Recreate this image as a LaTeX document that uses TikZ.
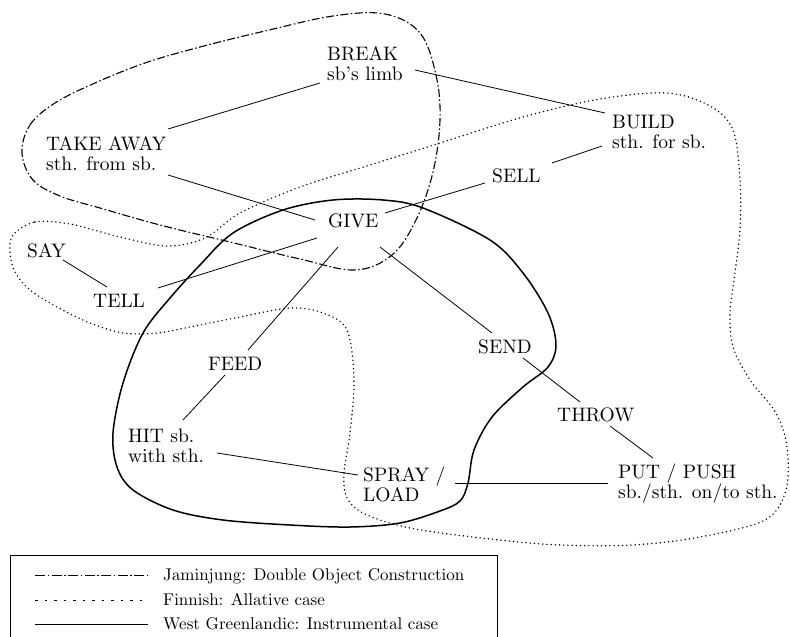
\documentclass[tikz,border=0pt]{standalone}
\usetikzlibrary{calc}
\font\labfont=cmr10 at 19.5pt
\font\legfont=cmr10 at 17pt
\begin{document}
\begin{tikzpicture}[x=1pt,y=-1pt,
  lbl/.style={font={\labfont\baselineskip=20pt}, inner sep=0pt, align=left, anchor=west},
  leg/.style={font=\legfont, inner sep=0pt, anchor=base west},
  conn/.style={line width=0.8pt},
  jam/.style={line width=1.1pt, dash pattern=on 8pt off 2.5pt on 1.5pt off 2.5pt},
  fin/.style={line width=1.6pt, line cap=round, dash pattern=on 0pt off 4.2pt},
  wgr/.style={line width=1.5pt},
  legjam/.style={line width=0.9pt, dash pattern=on 10pt off 2.5pt on 1.5pt off 2.5pt},
  legfin/.style={line width=0.9pt, dash pattern=on 2.5pt off 7pt},
  legwgr/.style={line width=0.9pt}]
\useasboundingbox (0,0) rectangle (790,637);

% labels
\node[lbl] (break) at (327,64) {BREAK\\sb's limb};
\node[lbl] (take) at (46,153.5) {TAKE AWAY\\sth. from sb.};
\node[lbl] (build) at (612,131.5) {BUILD\\sth. for sb.};
\node[lbl] (sell) at (492,175.5) {SELL};
\node[lbl] (give) at (328,220.5) {GIVE};
\node[lbl] (say) at (27,250.5) {SAY};
\node[lbl] (tell) at (93,300.5) {TELL};
\node[lbl] (feed) at (208,363.5) {FEED};
\node[lbl] (send) at (478,346.5) {SEND};
\node[lbl] (throw) at (557,414.5) {THROW};
\node[lbl] (hit) at (128,445.5) {HIT sb.\\with sth.};
\node[lbl] (spray) at (363,484) {SPRAY /\\LOAD};
\node[lbl] (put) at (618,484) {PUT / PUSH\\sb./sth. on/to sth.};

% connectors
\draw[conn] ($(take.west)+(122,-24.5)$) -- ($(break.west)+(-7,19)$);
\draw[conn] ($(take.west)+(122,21.5)$) -- ($(give.west)+(-13,-0.5)$);
\draw[conn] ($(break.west)+(88,6)$) -- ($(build.west)+(-7,-18.5)$);
\draw[conn] ($(build.west)+(-10,14.5)$) -- ($(sell.west)+(60,-12.5)$);
\draw[conn] ($(sell.west)+(-7,7.5)$) -- ($(give.west)+(57,-7.5)$);
\draw[conn] ($(give.west)+(-11,17.5)$) -- ($(tell.west)+(65,-12.5)$);
\draw[conn] ($(say.west)+(36,9.5)$) -- ($(tell.west)+(14,-13.5)$);
\draw[conn] ($(give.west)+(10,26.5)$) -- ($(feed.west)+(40,-13.5)$);
\draw[conn] ($(feed.west)+(17,11.5)$) -- ($(hit.west)+(55,-25.5)$);
\draw[conn] ($(hit.west)+(89,7.5)$) -- ($(spray.west)+(-5,-9)$);
\draw[conn] ($(give.west)+(52,26.5)$) -- ($(send.west)+(14,-13.5)$);
\draw[conn] ($(send.west)+(45,11.5)$) -- ($(throw.west)+(23,-12.5)$);
\draw[conn] ($(throw.west)+(53,11.5)$) -- ($(put.west)+(35,-26)$);
\draw[conn] ($(spray.west)+(92,-1)$) -- ($(put.west)+(-10,-1)$);

% Jaminjung: dash-dot region
\draw[jam] plot[smooth cycle, tension=0.6] coordinates {
 (22,153) (30,125) (55,103) (95,83) (145,63) (200,47) (265,31) (333,16)
 (385,14) (420,33) (436,75) (440,120) (433,172) (416,220) (392,255)
 (355,270) (300,259) (230,242) (160,225) (100,208) (60,196) (33,180)};

% Finnish: dotted region
\draw[fin] plot[smooth cycle, tension=0.55] coordinates {
 (13,235) (35,222) (70,224) (120,237) (167,246) (205,238) (240,213) (300,187)
 (370,165) (440,143) (523,117) (600,99) (667,93) (710,106) (733,130) (740,180)
 (740,230) (734,280) (730,313) (733,347) (750,380) (776,413) (787,447) (786,490)
 (765,520) (700,537) (633,545) (560,545) (490,539) (410,528) (365,514) (347,498)
 (344,473) (350,433) (354,380) (347,330) (323,313) (290,308) (240,317) (190,327)
 (157,333) (123,333) (90,323) (57,307) (30,290) (15,272) (10,253)};

% West Greenlandic: solid region
\draw[wgr] plot[smooth cycle, tension=0.55] coordinates {
 (383,200) (423,208) (490,240) (523,273) (548,313) (556,345) (548,367) (523,387)
 (492,417) (474,450) (468,483) (460,501) (440,511) (400,523) (350,527) (290,525)
 (223,520) (173,510) (133,490) (117,467) (113,433) (123,383) (143,333) (170,298)
 (200,265) (233,233) (283,210) (333,200)};

% legend
\draw[line width=0.9pt] (10,645) |- (497,555) -- (497,645);
\coordinate (l1a) at (35,575); \coordinate (l1b) at (148,575);
\coordinate (l2a) at (35,600); \coordinate (l2b) at (148,600);
\coordinate (l3a) at (35,624); \coordinate (l3b) at (148,624);
\draw[legjam] (l1a) -- (l1b);
\draw[legfin] (l2a) -- (l2b);
\draw[legwgr] (l3a) -- (l3b);
\node[leg] (t1) at (163,580) {Jaminjung: Double Object Construction};
\node[leg] (t2) at (163,605) {Finnish: Allative case};
\node[leg] (t3) at (163,629) {West Greenlandic: Instrumental case};
\end{tikzpicture}
\end{document}
